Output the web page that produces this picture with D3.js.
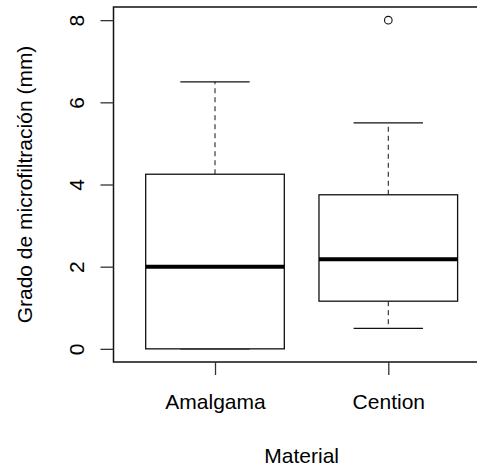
<!DOCTYPE html>
<html>
<head>
<meta charset="utf-8">
<script src="https://cdn.jsdelivr.net/npm/d3@7"></script>
<style>
    body { margin: 0; background: #fff; }
    text { font-family: 'Liberation Sans', Arial, sans-serif; fill: #000; }
</style>
</head>
<body>
<script>

var materials = ['Amalgama', 'Cention'];
var lowerWhisker = [0, 0.5];
var q1 = [0, 1.16];
var median = [2, 2.18];
var q3 = [4.25, 3.75];
var upperWhisker = [6.5, 5.5];
var outliers = [[], [8]];
var yTicks = [0, 2, 4, 6, 8];

var dataset = materials.map(function(m, i) {
    return {
        pos: i + 1,
        name: m,
        lo: lowerWhisker[i],
        q1: q1[i],
        med: median[i],
        q3: q3[i],
        hi: upperWhisker[i],
        out: outliers[i]
    };
});

function createBoxplot(d3, dataset) {

    var width = 477,
        height = 466;

    // R style: xlim 0.5..2.5 and ylim extended by 4%
    var x = d3.scaleLinear().domain([0.42, 2.58]).range([114.5, 488.8]);
    var y = d3.scaleLinear().domain([-0.32, 8.32]).range([362, 7]);

    var boxW = x(1.4) - x(1);

    var svg = d3.select('body').append('svg')
        .attr('width', width)
        .attr('height', height);

    var box = svg.selectAll('g.box')
        .data(dataset)
    .enter().append('g')
        .attr('class', 'box');

    // whiskers
    box.append('line')
        .attr('x1', function(d) { return x(d.pos); })
        .attr('x2', function(d) { return x(d.pos); })
        .attr('y1', function(d) { return y(d.q3); })
        .attr('y2', function(d) { return y(d.hi); })
        .attr('stroke', '#111')
        .attr('stroke-dasharray', '5,4');

    box.append('line')
        .attr('x1', function(d) { return x(d.pos); })
        .attr('x2', function(d) { return x(d.pos); })
        .attr('y1', function(d) { return y(d.q1); })
        .attr('y2', function(d) { return y(d.lo); })
        .attr('stroke', '#111')
        .attr('stroke-dasharray', '5,4');

    // whisker caps
    box.append('line')
        .attr('x1', function(d) { return x(d.pos) - boxW / 2; })
        .attr('x2', function(d) { return x(d.pos) + boxW / 2; })
        .attr('y1', function(d) { return y(d.hi); })
        .attr('y2', function(d) { return y(d.hi); })
        .attr('stroke', '#111')
        .attr('stroke-width', 1.3);

    box.append('line')
        .attr('x1', function(d) { return x(d.pos) - boxW / 2; })
        .attr('x2', function(d) { return x(d.pos) + boxW / 2; })
        .attr('y1', function(d) { return y(d.lo); })
        .attr('y2', function(d) { return y(d.lo); })
        .attr('stroke', '#111')
        .attr('stroke-width', 1.3);

    box.append('rect')
        .attr('x', function(d) { return x(d.pos) - boxW; })
        .attr('y', function(d) { return y(d.q3); })
        .attr('width', boxW * 2)
        .attr('height', function(d) { return y(d.q1) - y(d.q3); })
        .attr('fill', '#fff')
        .attr('stroke', '#111')
        .attr('stroke-width', 1.3);

    box.append('line')
        .attr('x1', function(d) { return x(d.pos) - boxW; })
        .attr('x2', function(d) { return x(d.pos) + boxW; })
        .attr('y1', function(d) { return y(d.med); })
        .attr('y2', function(d) { return y(d.med); })
        .attr('stroke', '#000')
        .attr('stroke-width', 4);

    box.selectAll('circle')
        .data(function(d) { return d.out.map(function(v) { return {pos: d.pos, v: v}; }); })
        .enter().append('circle')
        .attr('cx', function(d) { return x(d.pos); })
        .attr('cy', function(d) { return y(d.v); })
        .attr('r', 3.8)
        .attr('fill', 'none')
        .attr('stroke', '#111')
        .attr('stroke-width', 1.1);

    // frame
    svg.append('rect')
        .attr('x', x.range()[0] - 1)
        .attr('y', y.range()[1])
        .attr('width', x.range()[1] - x.range()[0] + 1)
        .attr('height', y.range()[0] - y.range()[1])
        .attr('fill', 'none')
        .attr('stroke', '#111')
        .attr('stroke-width', 1.5);

    var yAxis = d3.axisLeft(y).tickValues(yTicks).tickSize(13).tickSizeOuter(0);
    var xAxis = d3.axisBottom(x).tickValues(dataset.map(function(d) { return d.pos; }))
        .tickFormat(function(p) { return materials[p - 1]; })
        .tickSize(13).tickSizeOuter(0);

    var ya = svg.append('g')
        .attr('class', 'axis axis--y')
        .attr('transform', 'translate(' + (x.range()[0] - 1) + ',0)')
        .call(yAxis);

    var xa = svg.append('g')
        .attr('class', 'axis axis--x')
        .attr('transform', 'translate(0,' + y.range()[0] + ')')
        .call(xAxis);

    svg.selectAll('.axis .domain').remove();
    svg.selectAll('.axis line').attr('stroke', '#333').attr('stroke-width', 1.3);
    svg.selectAll('.axis text')
        .attr('font-family', "'Liberation Sans', Arial, sans-serif")
        .attr('font-size', '21px')
        .attr('fill', '#000');

    ya.selectAll('text')
        .attr('x', 0)
        .attr('dy', 0)
        .attr('text-anchor', 'middle')
        .attr('transform', 'translate(-30,0)rotate(-90)');

    xa.selectAll('text')
        .attr('y', 47)
        .attr('dy', 0);

    svg.append('text')
        .attr('text-anchor', 'middle')
        .attr('font-size', '21px')
        .attr('transform', 'translate(' + x(1.5) + ',463)')
        .text('Material');

    svg.append('text')
        .attr('text-anchor', 'middle')
        .attr('font-size', '21px')
        .attr('transform', 'translate(32,' + (y.range()[0] + y.range()[1]) / 2 + ')rotate(-90)')
        .text('Grado de microfiltración (mm)');

}

createBoxplot(window.d3, dataset);

</script>
</body>
</html>
